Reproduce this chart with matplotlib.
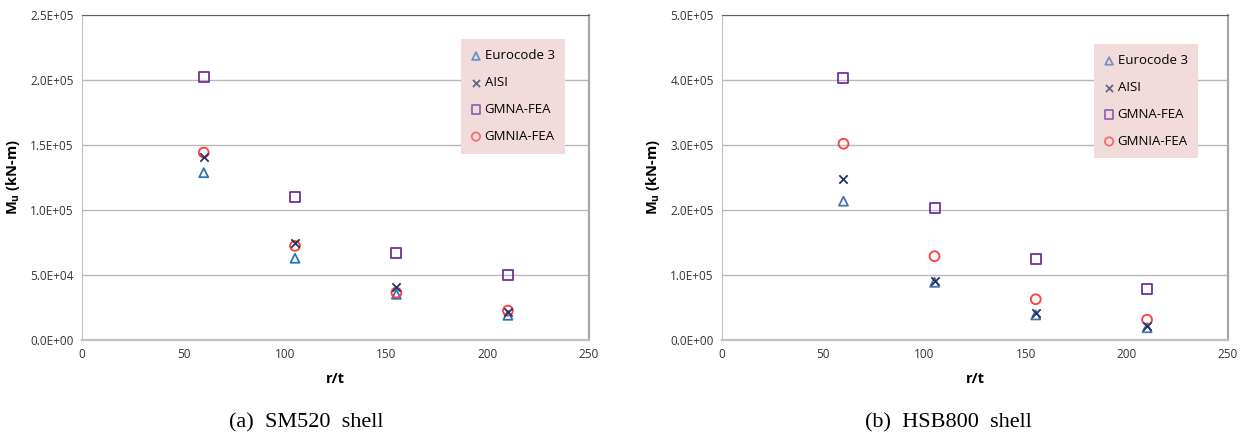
import matplotlib
matplotlib.use("Agg")
import matplotlib.pyplot as plt
from matplotlib.ticker import FuncFormatter, MultipleLocator

# r/t ratios of the shells
rt = [60, 105, 155, 210]

# ultimate moment M_u (kN-m), SM520 shell
sm520_ec3 = [128500, 62800, 35100, 19000]
sm520_aisi = [140500, 74800, 40800, 21600]
sm520_gmna = [202000, 109500, 66900, 49600]
sm520_gmnia = [144000, 72300, 36400, 22500]

# ultimate moment M_u (kN-m), HSB800 shell
hsb800_ec3 = [213300, 88600, 38500, 18800]
hsb800_aisi = [247000, 91000, 40800, 21400]
hsb800_gmna = [402600, 202600, 123700, 79000]
hsb800_gmnia = [301500, 128700, 62600, 31200]

labels = ["Eurocode 3", "AISI", "GMNA-FEA", "GMNIA-FEA"]
captions = ["(a)  SM520  shell", "(b)  HSB800  shell"]

FONT = "Open Sans"
plt.rcParams["mathtext.fontset"] = "custom"
plt.rcParams["mathtext.rm"] = FONT
plt.rcParams["mathtext.bf"] = FONT + ":bold"


def draw(ax, series, ymax, ystep, tri_color, legend_anchor):
    ec3, aisi, gmna, gmnia = series
    ax.scatter(rt, ec3, marker="^", s=42, facecolors="none",
               edgecolors=tri_color, linewidths=1.3, label=labels[0], zorder=3)
    ax.scatter(rt, aisi, marker="x", s=36, color="#1f3864",
               linewidths=1.3, label=labels[1], zorder=4)
    ax.scatter(rt, gmna, marker="s", s=52, facecolors="none",
               edgecolors="#7030a0", linewidths=1.3, label=labels[2], zorder=3)
    ax.scatter(rt, gmnia, marker="o", s=50, facecolors="none",
               edgecolors="#ff3b3b", linewidths=1.3, label=labels[3], zorder=3)

    ax.set_xlim(0, 250)
    ax.set_ylim(0, ymax)
    ax.xaxis.set_major_locator(MultipleLocator(50))
    ax.yaxis.set_major_locator(MultipleLocator(ystep))
    ax.yaxis.set_major_formatter(FuncFormatter(lambda v, p: f"{v:.1E}"))
    ax.grid(axis="y", color="#b8b8b8", linewidth=1.0)
    ax.set_axisbelow(True)
    ax.tick_params(length=0, labelsize=8.5, labelcolor="#333333", pad=6)
    for t in ax.get_xticklabels() + ax.get_yticklabels():
        t.set_family(FONT)

    ax.spines["top"].set_color("#606060")
    ax.spines["right"].set_color("#a8a8a8")
    ax.spines["right"].set_linewidth(1.6)
    ax.spines["left"].set_color("#c0c0c0")
    ax.spines["bottom"].set_color("#c0c0c0")
    ax.spines["bottom"].set_linewidth(1.6)

    ax.set_xlabel("r/t", fontsize=10.5, fontweight="bold", family=FONT, labelpad=8)
    ax.set_ylabel(r"$\mathbf{M_u}$ (kN-m)", fontsize=10.5, fontweight="bold",
                  family=FONT, labelpad=6)

    leg = ax.legend(loc="upper left", bbox_to_anchor=legend_anchor,
                    prop={"family": FONT, "size": 9.5}, frameon=True,
                    fancybox=False, facecolor="#f2dcdb", edgecolor="none",
                    framealpha=1, handlelength=0.7, handletextpad=0.3,
                    labelspacing=1.05, borderpad=0.8, borderaxespad=0,
                    scatterpoints=1, markerscale=0.85)
    for h in leg.legend_handles:
        h.set_alpha(0.7)


fig = plt.figure(figsize=(12.49, 4.40), dpi=100)
ax1 = fig.add_axes([0.0657, 0.2273, 0.4059, 0.7397])
ax2 = fig.add_axes([0.5781, 0.2273, 0.4051, 0.7397])

draw(ax1, (sm520_ec3, sm520_aisi, sm520_gmna, sm520_gmnia),
     250000, 50000, "#2e75b6", (0.747, 0.925))
draw(ax2, (hsb800_ec3, hsb800_aisi, hsb800_gmna, hsb800_gmnia),
     500000, 100000, "#4a72b0", (0.735, 0.91))

fig.text(0.245, 0.038, captions[0], ha="center", va="center",
         family="Liberation Serif", fontsize=16)
fig.text(0.759, 0.038, captions[1], ha="center", va="center",
         family="Liberation Serif", fontsize=16)

fig.savefig("out.png", dpi=100)
